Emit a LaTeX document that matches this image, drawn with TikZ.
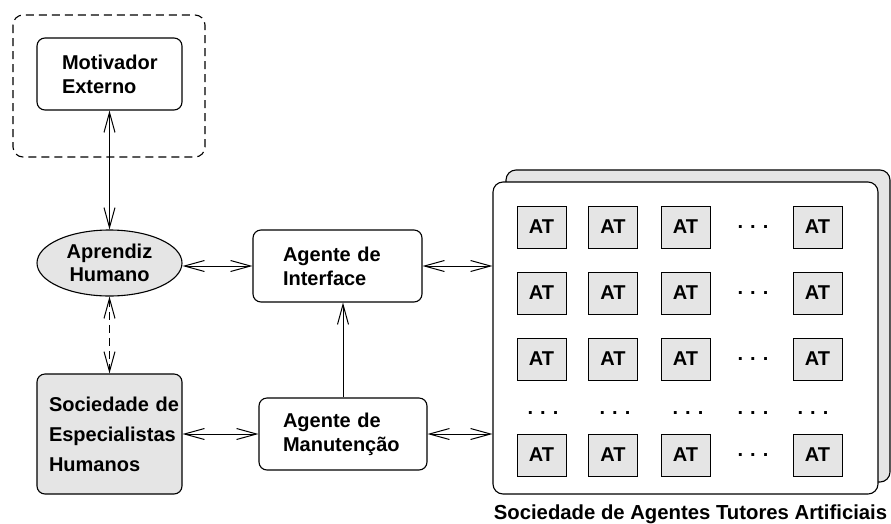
\documentclass[tikz,border=0pt]{standalone}
\usepackage{fontspec}
\setmainfont{Liberation Sans}
\usetikzlibrary{arrows.meta,shapes.geometric}
\begin{document}
\begin{tikzpicture}[x=1pt,y=-1pt,
  every node/.style={font=\bfseries\fontsize{20}{24}\selectfont, inner sep=0pt},
  box/.style={draw, rounded corners=8pt, line width=1.1pt},
  greyfill/.style={fill=black!10},
  atbox/.style={draw, line width=1pt, greyfill, minimum width=49pt, minimum height=42pt},
  barb/.tip={Straight Barb[length=20pt,width=11pt]},
  link/.style={line width=1pt, barb-barb},
  onelink/.style={line width=1pt, -barb},
  framedash/.style={draw, line width=1.1pt, rounded corners=10pt, dash pattern=on 8pt off 5pt}
]
\useasboundingbox (0,0) rectangle (891,523);

% dashed frame round the external motivator
\draw[framedash] (13,15) rectangle (205,157);

\node[box, minimum width=145pt, minimum height=72pt, text width=95pt, align=left]
  (motiv) at (109.5,74) {Motivador\\Externo};

\node[ellipse, draw, greyfill, line width=1.1pt, minimum width=145pt, minimum height=66pt,
  align=center, font=\bfseries\fontsize{20}{23}\selectfont]
  (aprendiz) at (109.5,263) {Aprendiz\\Humano};

\node[box, minimum width=169pt, minimum height=72pt, text width=109pt, align=left]
  (iface) at (337.5,266) {\makebox[104pt][s]{Agente de}\\Interface};

\node[box, minimum width=168pt, minimum height=72pt, text width=120pt, align=left]
  (manut) at (343,434) {\makebox[115pt][s]{Agente de}\\Manutenção};

\node[box, greyfill, minimum width=145pt, minimum height=120pt, text width=121pt, align=left,
  font=\bfseries\fontsize{20}{30}\selectfont]
  (socesp) at (109.5,434) {\makebox[129pt][s]{Sociedade de}\\Especialistas\\Humanos};

% stacked panels holding the society of tutor agents
\node[box, greyfill, rounded corners=10pt, minimum width=384pt, minimum height=312pt]
  (back) at (698,326) {};
\node[box, fill=white, rounded corners=10pt, minimum width=385pt, minimum height=312pt]
  (ats) at (685.5,338) {};

\foreach \r/\y in {1/227,2/293,3/359,5/455} {
  \foreach \c/\x in {1/541.5,2/613,3/685.5,5/817.5}
    \node[atbox] (at-\r-\c) at (\x,\y) {AT};
  \node (dots-\r) at (753,\y) {.\hspace{7pt}.\hspace{7pt}.};
}
\foreach \c/\x in {1/543,2/615,3/688,4/753,5/813}
  \node (dots-4-\c) at (\x,413) {.\hspace{7pt}.\hspace{7pt}.};

\node[anchor=base, font=\bfseries\fontsize{20.3}{24}\selectfont]
  (caption) at (690.5,519) {Sociedade de Agentes Tutores Artificiais};

% connectors
\draw[link] (motiv.south) -- (aprendiz.north);
\draw[link] (aprendiz.east |- iface.west) -- (iface.west);
\draw[link, dash pattern=on 8pt off 5pt] (aprendiz.south) -- (socesp.north);
\draw[link] (socesp.east) -- (manut.west);
\draw[onelink] (manut.north) -- (manut.north |- iface.south);
\draw[link] (iface.east) -- (ats.west |- iface.east);
\draw[link] (manut.east) -- (ats.west |- manut.east);
\end{tikzpicture}
\end{document}
